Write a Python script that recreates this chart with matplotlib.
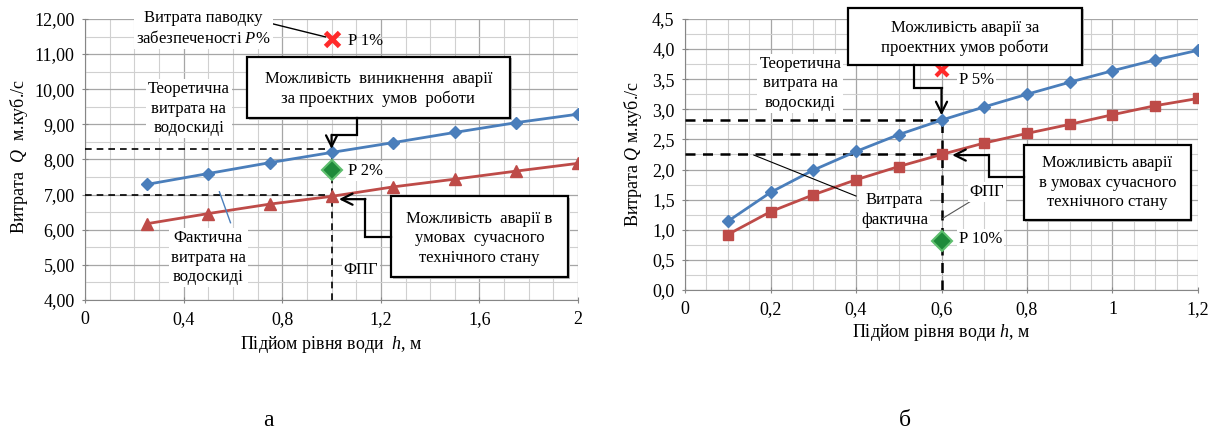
import matplotlib
matplotlib.use('Agg')
import matplotlib.pyplot as plt
from matplotlib.patches import Rectangle
from matplotlib.ticker import MultipleLocator, FuncFormatter

plt.rcParams['font.family'] = ['Liberation Serif', 'DejaVu Serif']
plt.rcParams['mathtext.fontset'] = 'custom'
plt.rcParams['mathtext.it'] = 'Liberation Serif:italic'
plt.rcParams['mathtext.rm'] = 'Liberation Serif'

# ---------------- data: chart а ----------------
h_a = [0.25, 0.5, 0.75, 1.0, 1.25, 1.5, 1.75, 2.0]
q_theor_a = [7.29, 7.60, 7.91, 8.20, 8.48, 8.77, 9.05, 9.29]
q_fact_a = [6.17, 6.46, 6.73, 6.95, 7.22, 7.44, 7.67, 7.89]
h_fpg_a = 1.0
q_p1_a = 11.42
q_p2_a = 7.70
q_theor_fpg_a = 8.29
q_fact_fpg_a = 7.00

# ---------------- data: chart б ----------------
h_b = [0.1, 0.2, 0.3, 0.4, 0.5, 0.6, 0.7, 0.8, 0.9, 1.0, 1.1, 1.2]
q_theor_b = [1.14, 1.62, 1.99, 2.30, 2.58, 2.82, 3.04, 3.25, 3.45, 3.64, 3.82, 3.98]
q_fact_b = [0.92, 1.30, 1.58, 1.83, 2.05, 2.25, 2.44, 2.60, 2.75, 2.91, 3.06, 3.18]
h_fpg_b = 0.6
q_p5_b = 3.65
q_p10_b = 0.81
q_theor_fpg_b = 2.82
q_fact_fpg_b = 2.25

BLUE = '#4a7ebb'
RED = '#be4b48'
GREEN = '#1e8a3a'
XRED = '#ff2a2a'
FS = 12

fig = plt.figure(figsize=(12.15, 4.33), dpi=100)
axA = fig.add_axes([0.0700, 0.3072, 0.4058, 0.6490])
axB = fig.add_axes([0.5638, 0.3303, 0.4222, 0.6259])


def style(ax, xmax, xmaj, xmin, ymin_, ymax, ymaj, ymn, yfmt):
    ax.set_xlim(0, xmax)
    ax.set_ylim(ymin_, ymax)
    ax.xaxis.set_major_locator(MultipleLocator(xmaj))
    ax.xaxis.set_minor_locator(MultipleLocator(xmin))
    ax.yaxis.set_major_locator(MultipleLocator(ymaj))
    ax.yaxis.set_minor_locator(MultipleLocator(ymn))
    ax.xaxis.set_major_formatter(FuncFormatter(lambda v, p: f"{v:g}".replace('.', ',')))
    ax.yaxis.set_major_formatter(FuncFormatter(lambda v, p: yfmt.format(v).replace('.', ',')))
    ax.grid(which='major', color='#a6a6a6', lw=0.9)
    ax.grid(which='minor', color='#d0d0d0', lw=0.8)
    ax.set_axisbelow(True)
    for s in ['top', 'right']:
        ax.spines[s].set_visible(False)
    for s in ['left', 'bottom']:
        ax.spines[s].set_color('#868686')
    ax.tick_params(which='major', length=5, direction='inout', color='#868686',
                   labelsize=FS + 1)
    ax.tick_params(axis='x', which='major', pad=5.5)
    ax.tick_params(axis='y', which='major', pad=5)
    ax.tick_params(which='minor', length=0)


def box(ax, x0, x1, y0, y1, txt, tx, ty, ls=1.3):
    ax.add_patch(Rectangle((x0 + (x1 - x0) * 0.006, y0 - (y1 - y0) * 0.025), x1 - x0, y1 - y0,
                           fc='#bfbfbf', ec='none', zorder=5, clip_on=False))
    ax.add_patch(Rectangle((x0, y0), x1 - x0, y1 - y0, fc='white', ec='black',
                           lw=1.6, zorder=6, clip_on=False))
    ax.text(tx, ty, txt, ha='center', va='center', fontsize=FS, zorder=7,
            linespacing=ls, clip_on=False)


def connector(ax, pts):
    xs = [p[0] for p in pts]
    ys = [p[1] for p in pts]
    ax.plot(xs[:-1], ys[:-1], color='black', lw=1.6, zorder=6, clip_on=False,
            solid_joinstyle='miter')
    ax.annotate('', xy=pts[-1], xytext=pts[-2],
                arrowprops=dict(arrowstyle='->', lw=1.6, color='black',
                                mutation_scale=20, shrinkA=0, shrinkB=0), zorder=6)


WB = dict(facecolor='white', edgecolor='none', pad=1.5)

# ================= chart а =================
style(axA, 2.0, 0.4, 0.1, 4, 12, 1, 0.5, "{:.2f}")
axA.plot([0, h_fpg_a], [q_theor_fpg_a] * 2, ls=(0, (4, 3)), color='black', lw=1.2, zorder=3)
axA.plot([0, h_fpg_a], [q_fact_fpg_a] * 2, ls=(0, (4, 3)), color='black', lw=1.2, zorder=3)
axA.plot([h_fpg_a] * 2, [4, q_theor_fpg_a], ls=(0, (4, 3)), color='black', lw=1.2, zorder=3)
axA.plot(h_a, q_theor_a, color=BLUE, lw=2, marker='D', ms=6, zorder=4)
axA.plot(h_a, q_fact_a, color=RED, lw=2, marker='^', ms=8, zorder=4)
axA.plot([h_fpg_a], [q_p1_a], marker='x', color=XRED, ms=10, mew=3.5, zorder=5, ls='none')
axA.plot([h_fpg_a], [q_p2_a], marker='D', color=GREEN, mec='#5fbf6f', mew=1.5, ms=10,
         zorder=5, ls='none')
axA.text(1.067, 11.36, 'P 1%', fontsize=FS, va='center', ha='left', zorder=7)
axA.text(1.067, 7.66, 'P 2%', fontsize=FS, va='center', ha='left', zorder=7, bbox=WB)
axA.text(0.48, 11.73, 'Витрата паводку\nзабезпеченості $P\\%$', fontsize=FS,
         ha='center', va='center', linespacing=1.3, zorder=7, bbox=WB, clip_on=False)
axA.plot([0.745, 0.975], [11.89, 11.49], color='black', lw=1, zorder=6)
axA.text(0.42, 9.45, 'Теоретична\nвитрата на\nводоскиді', fontsize=FS, ha='center',
         va='center', linespacing=1.3, zorder=7, bbox=WB)
axA.text(0.50, 5.20, 'Фактична\nвитрата на\nводоскиді', fontsize=FS, ha='center',
         va='center', linespacing=1.3, zorder=7, bbox=WB)
axA.plot([0.59, 0.545], [6.20, 7.08], color=BLUE, lw=1, zorder=6)
axA.text(1.12, 4.85, 'ФПГ', fontsize=FS, ha='center', va='center', zorder=7, bbox=WB)
box(axA, 0.657, 1.724, 9.18, 10.92,
    'Можливість  виникнення  аварії\nза проектних  умов  роботи', 1.19, 10.0)
connector(axA, [(1.103, 9.18), (1.103, 8.70), (1.0, 8.70), (1.0, 8.30)])
box(axA, 1.243, 1.961, 4.65, 6.96,
    'Можливість  аварії в\nумовах  сучасного\nтехнічного стану', 1.60, 5.76)
connector(axA, [(1.243, 5.79), (1.137, 5.79), (1.137, 6.87), (1.03, 6.87)])
axA.set_xlabel('Підйом рівня води  $h$, м', fontsize=FS + 1, labelpad=4)
axA.set_ylabel('Витрата  $Q$  м.куб./с', fontsize=FS + 1)
axA.yaxis.set_label_coords(-0.112, 0.51)

# ================= chart б =================
style(axB, 1.2, 0.2, 0.05, 0, 4.5, 0.5, 0.25, "{:.1f}")
axB.plot([0, h_fpg_b], [q_theor_fpg_b] * 2, ls=(0, (4, 3)), color='black', lw=1.8, zorder=3)
axB.plot([0, h_fpg_b], [q_fact_fpg_b] * 2, ls=(0, (4, 3)), color='black', lw=1.8, zorder=3)
axB.plot([h_fpg_b] * 2, [0, q_theor_fpg_b], ls=(0, (4, 3)), color='black', lw=1.8, zorder=3)
axB.plot(h_b, q_theor_b, color=BLUE, lw=2, marker='D', ms=6, zorder=4)
axB.plot(h_b, q_fact_b, color=RED, lw=2, marker='s', ms=6.5, zorder=4)
axB.plot([h_fpg_b], [q_p5_b], marker='x', color=XRED, ms=8, mew=3, zorder=5, ls='none')
axB.plot([h_fpg_b], [q_p10_b], marker='D', color=GREEN, mec='#5fbf6f', mew=1.5, ms=10,
         zorder=5, ls='none')
axB.text(0.64, 3.49, 'P 5%', fontsize=FS, va='center', ha='left', zorder=7, bbox=WB)
axB.text(0.64, 0.84, 'P 10%', fontsize=FS, va='center', ha='left', zorder=7, bbox=WB)
axB.text(0.27, 3.43, 'Теоретична\nвитрата на\nводоскиді', fontsize=FS, ha='center',
         va='center', linespacing=1.3, zorder=7, bbox=WB)
axB.text(0.49, 1.33, 'Витрата\nфактична', fontsize=FS, ha='center', va='center',
         linespacing=1.35, zorder=7, bbox=WB)
axB.plot([0.161, 0.40], [2.24, 1.56], color='black', lw=0.8, zorder=6)
axB.text(0.706, 1.62, 'ФПГ', fontsize=FS, ha='center', va='center', zorder=7, bbox=WB)
axB.plot([0.603, 0.67], [1.19, 1.48], color='#555555', lw=0.8, zorder=6)
box(axB, 0.381, 0.929, 3.74, 4.69,
    'Можливість аварії за\nпроектних умов роботи', 0.655, 4.18)
connector(axB, [(0.535, 3.74), (0.535, 3.35), (0.6, 3.35), (0.6, 2.90)])
box(axB, 0.792, 1.183, 1.16, 2.41,
    'Можливість аварії\nв умовах сучасного\nтехнічного стану', 0.988, 1.78)
connector(axB, [(0.792, 1.88), (0.711, 1.88), (0.711, 2.24), (0.625, 2.24)])
axB.set_xlabel('Підйом рівня води $h$, м', fontsize=FS + 1, labelpad=3)
axB.set_ylabel('Витрата $Q$ м.куб./с', fontsize=FS + 1)
axB.yaxis.set_label_coords(-0.080, 0.50)

fig.text(0.2206, 0.030, 'а', fontsize=17, ha='center', va='center')
fig.text(0.745, 0.030, 'б', fontsize=17, ha='center', va='center')

fig.savefig('out.png', dpi=100)
